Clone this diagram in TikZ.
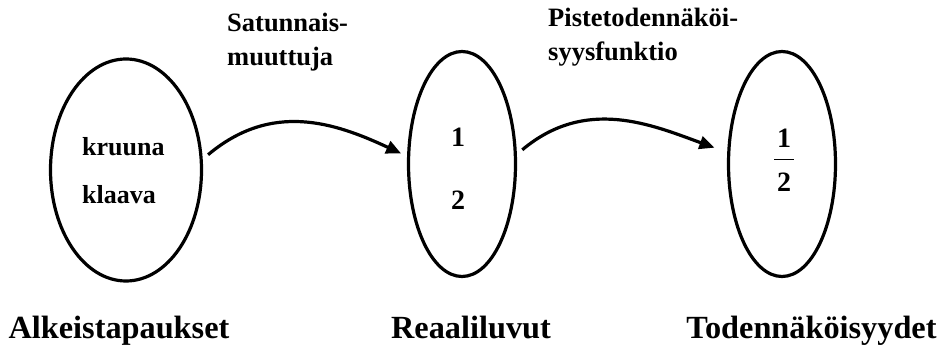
\documentclass[tikz,border=0pt]{standalone}
\usepackage{fontspec}
\setmainfont{Liberation Serif}
\usetikzlibrary{shapes.geometric,arrows.meta}
\begin{document}
\begin{tikzpicture}[x=1pt,y=1pt,
  setbox/.style={draw,ellipse,line width=3.2pt,inner sep=0pt},
  conn/.style={line width=3.2pt,-{Triangle[length=15pt,width=13pt]}},
  toplbl/.style={font=\fontsize{26.5}{34}\selectfont\bfseries,align=left,inner sep=0pt},
  innerlbl/.style={font=\fontsize{26}{48}\selectfont\bfseries,align=left,inner sep=0pt},
  numlbl/.style={font=\fontsize{28}{63}\selectfont\bfseries,align=center,inner sep=0pt},
  fraclbl/.style={font=\fontsize{28}{13}\selectfont\bfseries,align=center,inner sep=0pt},
  caplbl/.style={font=\fontsize{32.3}{36}\selectfont\bfseries,inner sep=0pt}]
\useasboundingbox (0,0) rectangle (940,-347);
% sets
\node[setbox,minimum width=151pt,minimum height=222pt] (e1) at (126,-170) {};
\node[setbox,minimum width=107pt,minimum height=225pt] (e2) at (462,-164) {};
\node[setbox,minimum width=107pt,minimum height=225pt] (e3) at (782,-164) {};
% contents
\node[innerlbl,anchor=base west] (t1) at (82,-204) {kruuna\\klaava};
\node[numlbl,anchor=base] (t2) at (458,-210) {1\\2};
\node[fraclbl,anchor=base] (t3) at (784,-192) {1\\\rule{20pt}{1.6pt}\\[12pt]2};
% connectors
\draw[conn,shorten <=7pt,shorten >=6.5pt] (e1.8) .. controls +(40:90) and +(155:80) .. (e2.172);
\draw[conn,shorten <=7pt,shorten >=13.6pt] (e2.10) .. controls +(40:90) and +(160:80) .. (e3.168);
% arrow labels
\node[toplbl,anchor=base west] (l1) at (227,-66) {Satunnais-\\muuttuja};
\node[toplbl,anchor=base west] (l2) at (548,-61) {Pistetodennäköi-\\syysfunktio};
% captions
\node[caplbl,anchor=base] (c1) at (119,-338) {Alkeistapaukset};
\node[caplbl,anchor=base] (c2) at (471,-338) {Reaaliluvut};
\node[caplbl,anchor=base] (c3) at (811.5,-338) {Todennäköisyydet};
\end{tikzpicture}
\end{document}
